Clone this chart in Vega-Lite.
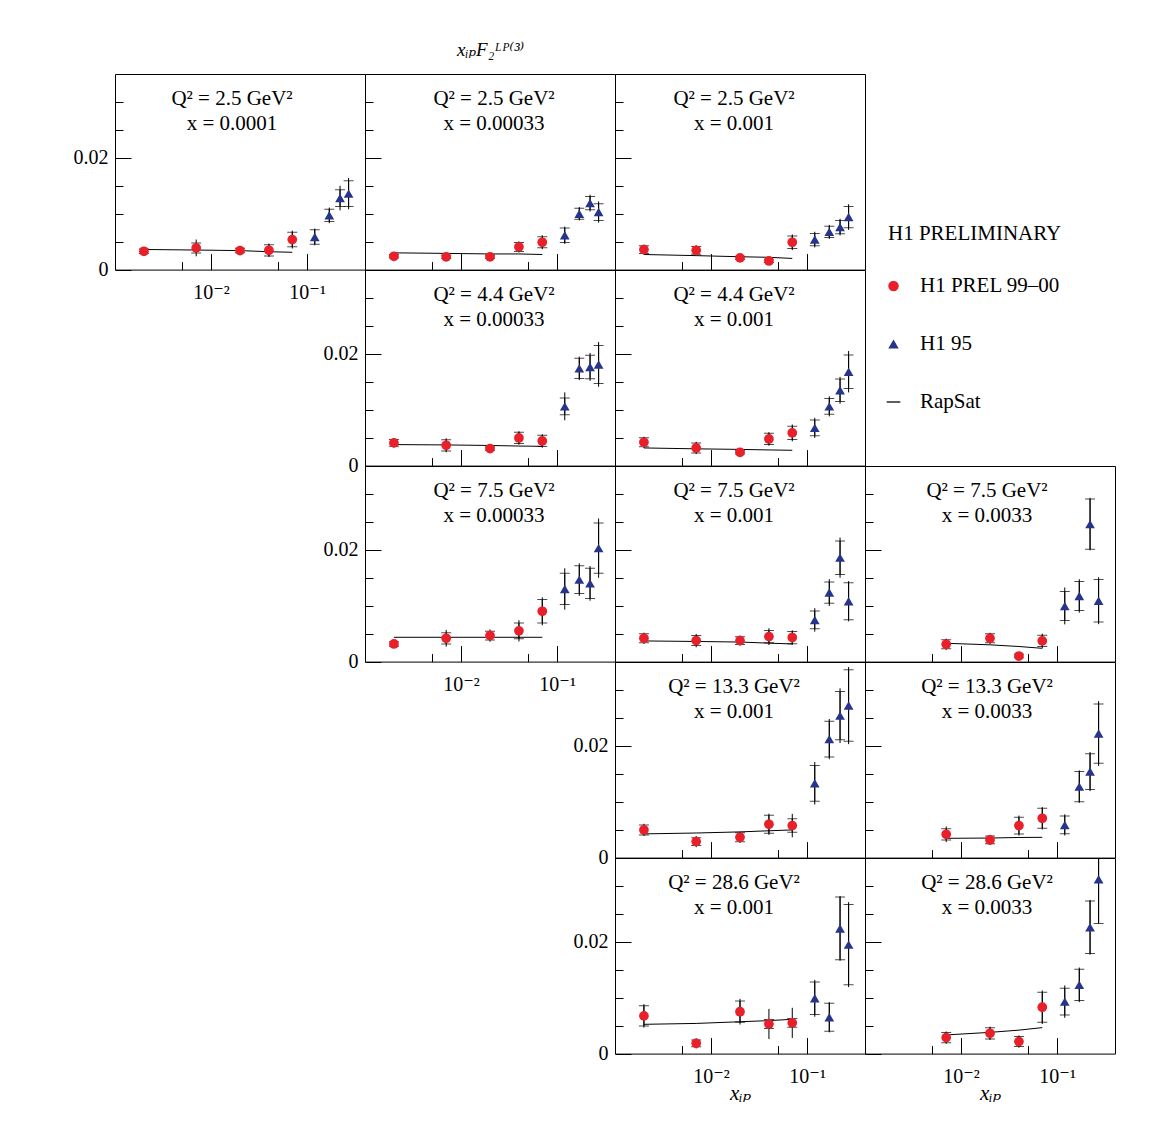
{
  "$schema": "https://vega.github.io/schema/vega-lite/v6.json",
  "autosize": {"type": "pad"},
  "padding": {"left": 72, "top": 40, "right": 5, "bottom": 5},
  "background": "white",
  "title": {"text": "xᵢₚF₂ᴸᴾ⁽³⁾", "anchor": "start", "frame": "group", "dx": 342, "offset": 14, "fontSize": 19, "fontStyle": "italic", "lineHeight": 22, "font": "Liberation Serif, DejaVu Serif"},
  "datasets": {
    "pts": [
      {"p":"A","s":"H1 PREL 99–00","xp":0.002,"y":0.00328,"e":0.0005,"es":0.0004},
      {"p":"A","s":"H1 PREL 99–00","xp":0.007,"y":0.00388,"e":0.0015,"es":0.0009},
      {"p":"A","s":"H1 PREL 99–00","xp":0.02,"y":0.0034,"e":0.0005,"es":0.0004},
      {"p":"A","s":"H1 PREL 99–00","xp":0.04,"y":0.00345,"e":0.0012,"es":0.001},
      {"p":"A","s":"H1 PREL 99–00","xp":0.07,"y":0.00537,"e":0.0016,"es":0.0013},
      {"p":"A","s":"H1 95","xp":0.12,"y":0.00585,"e":0.0015,"es":0.0013},
      {"p":"A","s":"H1 95","xp":0.17,"y":0.0097,"e":0.0014,"es":0.0011},
      {"p":"A","s":"H1 95","xp":0.22,"y":0.0128,"e":0.0022,"es":0.0015},
      {"p":"A","s":"H1 95","xp":0.27,"y":0.0136,"e":0.0028,"es":0.0023},

      {"p":"B","s":"H1 PREL 99–00","xp":0.002,"y":0.00238,"e":0.0004,"es":0.0003},
      {"p":"B","s":"H1 PREL 99–00","xp":0.007,"y":0.00227,"e":0.0004,"es":0.0003},
      {"p":"B","s":"H1 PREL 99–00","xp":0.02,"y":0.00227,"e":0.0004,"es":0.0003},
      {"p":"B","s":"H1 PREL 99–00","xp":0.04,"y":0.00406,"e":0.001,"es":0.0008},
      {"p":"B","s":"H1 PREL 99–00","xp":0.07,"y":0.00489,"e":0.00125,"es":0.001},
      {"p":"B","s":"H1 95","xp":0.12,"y":0.00614,"e":0.00155,"es":0.0013},
      {"p":"B","s":"H1 95","xp":0.17,"y":0.01,"e":0.0012,"es":0.001},
      {"p":"B","s":"H1 95","xp":0.22,"y":0.0119,"e":0.0015,"es":0.0012},
      {"p":"B","s":"H1 95","xp":0.27,"y":0.0103,"e":0.0019,"es":0.0015},

      {"p":"C","s":"H1 PREL 99–00","xp":0.002,"y":0.00358,"e":0.0009,"es":0.0007},
      {"p":"C","s":"H1 PREL 99–00","xp":0.007,"y":0.00345,"e":0.0009,"es":0.0007},
      {"p":"C","s":"H1 PREL 99–00","xp":0.02,"y":0.0021,"e":0.0004,"es":0.0003},
      {"p":"C","s":"H1 PREL 99–00","xp":0.04,"y":0.00155,"e":0.0004,"es":0.0003},
      {"p":"C","s":"H1 PREL 99–00","xp":0.07,"y":0.00489,"e":0.0014,"es":0.0011},
      {"p":"C","s":"H1 95","xp":0.12,"y":0.00537,"e":0.0014,"es":0.0011},
      {"p":"C","s":"H1 95","xp":0.17,"y":0.00675,"e":0.00125,"es":0.001},
      {"p":"C","s":"H1 95","xp":0.22,"y":0.0076,"e":0.0015,"es":0.0012},
      {"p":"C","s":"H1 95","xp":0.27,"y":0.0094,"e":0.0023,"es":0.0019},

      {"p":"D","s":"H1 PREL 99–00","xp":0.002,"y":0.00406,"e":0.0008,"es":0.0006},
      {"p":"D","s":"H1 PREL 99–00","xp":0.007,"y":0.00363,"e":0.00125,"es":0.001},
      {"p":"D","s":"H1 PREL 99–00","xp":0.02,"y":0.00304,"e":0.0004,"es":0.0003},
      {"p":"D","s":"H1 PREL 99–00","xp":0.04,"y":0.00495,"e":0.0012,"es":0.001},
      {"p":"D","s":"H1 PREL 99–00","xp":0.07,"y":0.00441,"e":0.0012,"es":0.001},
      {"p":"D","s":"H1 95","xp":0.12,"y":0.0106,"e":0.0025,"es":0.0015},
      {"p":"D","s":"H1 95","xp":0.17,"y":0.0174,"e":0.0021,"es":0.0018},
      {"p":"D","s":"H1 95","xp":0.22,"y":0.01766,"e":0.0025,"es":0.0021},
      {"p":"D","s":"H1 95","xp":0.27,"y":0.0181,"e":0.004,"es":0.0034},

      {"p":"E","s":"H1 PREL 99–00","xp":0.002,"y":0.00417,"e":0.001,"es":0.0008},
      {"p":"E","s":"H1 PREL 99–00","xp":0.007,"y":0.00316,"e":0.0011,"es":0.0009},
      {"p":"E","s":"H1 PREL 99–00","xp":0.02,"y":0.00238,"e":0.0004,"es":0.0003},
      {"p":"E","s":"H1 PREL 99–00","xp":0.04,"y":0.00477,"e":0.0012,"es":0.001},
      {"p":"E","s":"H1 PREL 99–00","xp":0.07,"y":0.00585,"e":0.0015,"es":0.0012},
      {"p":"E","s":"H1 95","xp":0.12,"y":0.00675,"e":0.0018,"es":0.0014},
      {"p":"E","s":"H1 95","xp":0.17,"y":0.0106,"e":0.0018,"es":0.0014},
      {"p":"E","s":"H1 95","xp":0.22,"y":0.01348,"e":0.0024,"es":0.002},
      {"p":"E","s":"H1 95","xp":0.27,"y":0.0168,"e":0.0037,"es":0.003},

      {"p":"F","s":"H1 PREL 99–00","xp":0.002,"y":0.00316,"e":0.0005,"es":0.0004},
      {"p":"F","s":"H1 PREL 99–00","xp":0.007,"y":0.00417,"e":0.0015,"es":0.001},
      {"p":"F","s":"H1 PREL 99–00","xp":0.02,"y":0.00465,"e":0.0011,"es":0.0008},
      {"p":"F","s":"H1 PREL 99–00","xp":0.04,"y":0.0055,"e":0.0019,"es":0.0014},
      {"p":"F","s":"H1 PREL 99–00","xp":0.07,"y":0.009,"e":0.0025,"es":0.0021},
      {"p":"F","s":"H1 95","xp":0.12,"y":0.013,"e":0.0037,"es":0.0028},
      {"p":"F","s":"H1 95","xp":0.17,"y":0.01467,"e":0.0029,"es":0.0025},
      {"p":"F","s":"H1 95","xp":0.22,"y":0.014,"e":0.0031,"es":0.0027},
      {"p":"F","s":"H1 95","xp":0.27,"y":0.0203,"e":0.0053,"es":0.0045},

      {"p":"G","s":"H1 PREL 99–00","xp":0.002,"y":0.00417,"e":0.001,"es":0.0008},
      {"p":"G","s":"H1 PREL 99–00","xp":0.007,"y":0.00376,"e":0.0012,"es":0.0009},
      {"p":"G","s":"H1 PREL 99–00","xp":0.02,"y":0.00376,"e":0.0009,"es":0.0007},
      {"p":"G","s":"H1 PREL 99–00","xp":0.04,"y":0.00447,"e":0.0015,"es":0.0011},
      {"p":"G","s":"H1 PREL 99–00","xp":0.07,"y":0.0043,"e":0.0013,"es":0.0011},
      {"p":"G","s":"H1 95","xp":0.12,"y":0.00746,"e":0.0021,"es":0.0016},
      {"p":"G","s":"H1 95","xp":0.17,"y":0.01235,"e":0.0024,"es":0.0019},
      {"p":"G","s":"H1 95","xp":0.22,"y":0.0186,"e":0.0036,"es":0.003},
      {"p":"G","s":"H1 95","xp":0.27,"y":0.0108,"e":0.0036,"es":0.0033},

      {"p":"H","s":"H1 PREL 99–00","xp":0.007,"y":0.0031,"e":0.001,"es":0.0008},
      {"p":"H","s":"H1 PREL 99–00","xp":0.02,"y":0.00417,"e":0.001,"es":0.0008},
      {"p":"H","s":"H1 PREL 99–00","xp":0.04,"y":0.001,"e":0.0004,"es":0.0003},
      {"p":"H","s":"H1 PREL 99–00","xp":0.07,"y":0.0037,"e":0.0013,"es":0.001},
      {"p":"H","s":"H1 95","xp":0.12,"y":0.00996,"e":0.0033,"es":0.0026},
      {"p":"H","s":"H1 95","xp":0.17,"y":0.01175,"e":0.003,"es":0.0026},
      {"p":"H","s":"H1 95","xp":0.22,"y":0.0246,"e":0.0047,"es":0.0045},
      {"p":"H","s":"H1 95","xp":0.27,"y":0.0109,"e":0.0042,"es":0.0038},

      {"p":"I","s":"H1 PREL 99–00","xp":0.002,"y":0.00495,"e":0.0011,"es":0.0009},
      {"p":"I","s":"H1 PREL 99–00","xp":0.007,"y":0.00286,"e":0.001,"es":0.0007},
      {"p":"I","s":"H1 PREL 99–00","xp":0.02,"y":0.00363,"e":0.001,"es":0.0008},
      {"p":"I","s":"H1 PREL 99–00","xp":0.04,"y":0.00596,"e":0.0019,"es":0.0016},
      {"p":"I","s":"H1 PREL 99–00","xp":0.07,"y":0.00573,"e":0.0021,"es":0.0012},
      {"p":"I","s":"H1 95","xp":0.12,"y":0.0133,"e":0.0038,"es":0.0032},
      {"p":"I","s":"H1 95","xp":0.17,"y":0.0212,"e":0.0036,"es":0.0032},
      {"p":"I","s":"H1 95","xp":0.22,"y":0.0254,"e":0.0049,"es":0.0043},
      {"p":"I","s":"H1 95","xp":0.27,"y":0.0272,"e":0.0069,"es":0.0064},

      {"p":"J","s":"H1 PREL 99–00","xp":0.007,"y":0.00417,"e":0.0014,"es":0.001},
      {"p":"J","s":"H1 PREL 99–00","xp":0.02,"y":0.00316,"e":0.0009,"es":0.0007},
      {"p":"J","s":"H1 PREL 99–00","xp":0.04,"y":0.00573,"e":0.0018,"es":0.0015},
      {"p":"J","s":"H1 PREL 99–00","xp":0.07,"y":0.00703,"e":0.002,"es":0.0018},
      {"p":"J","s":"H1 95","xp":0.12,"y":0.00585,"e":0.0019,"es":0.0016},
      {"p":"J","s":"H1 95","xp":0.17,"y":0.0127,"e":0.0029,"es":0.0027},
      {"p":"J","s":"H1 95","xp":0.22,"y":0.0154,"e":0.0035,"es":0.0032},
      {"p":"J","s":"H1 95","xp":0.27,"y":0.0222,"e":0.0058,"es":0.0053},

      {"p":"K","s":"H1 PREL 99–00","xp":0.002,"y":0.00675,"e":0.0021,"es":0.0018},
      {"p":"K","s":"H1 PREL 99–00","xp":0.007,"y":0.00184,"e":0.0009,"es":0.0006},
      {"p":"K","s":"H1 PREL 99–00","xp":0.02,"y":0.0075,"e":0.0023,"es":0.0019},
      {"p":"K","s":"H1 PREL 99–00","xp":0.04,"y":0.0053,"e":0.0027,"es":0.0008},
      {"p":"K","s":"H1 PREL 99–00","xp":0.07,"y":0.0055,"e":0.0027,"es":0.0008},
      {"p":"K","s":"H1 95","xp":0.12,"y":0.0099,"e":0.0033,"es":0.0029},
      {"p":"K","s":"H1 95","xp":0.17,"y":0.0065,"e":0.0027,"es":0.0025},
      {"p":"K","s":"H1 95","xp":0.22,"y":0.0224,"e":0.0058,"es":0.0056},
      {"p":"K","s":"H1 95","xp":0.27,"y":0.0195,"e":0.0076,"es":0.0072},

      {"p":"L","s":"H1 PREL 99–00","xp":0.007,"y":0.00286,"e":0.0011,"es":0.0009},
      {"p":"L","s":"H1 PREL 99–00","xp":0.02,"y":0.00363,"e":0.0012,"es":0.001},
      {"p":"L","s":"H1 PREL 99–00","xp":0.04,"y":0.00215,"e":0.0011,"es":0.0009},
      {"p":"L","s":"H1 PREL 99–00","xp":0.07,"y":0.0083,"e":0.003,"es":0.0027},
      {"p":"L","s":"H1 95","xp":0.12,"y":0.0093,"e":0.0029,"es":0.0024},
      {"p":"L","s":"H1 95","xp":0.17,"y":0.0123,"e":0.0031,"es":0.0028},
      {"p":"L","s":"H1 95","xp":0.22,"y":0.0226,"e":0.0049,"es":0.0047},
      {"p":"L","s":"H1 95","xp":0.27,"y":0.0312,"e":0.0079,"es":0.0079}
    ],
    "rap": [
      {"p":"A","xp":0.002,"y":0.0036},{"p":"A","xp":0.007,"y":0.0035},{"p":"A","xp":0.02,"y":0.0034},{"p":"A","xp":0.04,"y":0.0032},{"p":"A","xp":0.07,"y":0.0031},
      {"p":"B","xp":0.002,"y":0.003},{"p":"B","xp":0.007,"y":0.0029},{"p":"B","xp":0.02,"y":0.0028},{"p":"B","xp":0.04,"y":0.0028},{"p":"B","xp":0.07,"y":0.0027},
      {"p":"C","xp":0.002,"y":0.0027},{"p":"C","xp":0.007,"y":0.0025},{"p":"C","xp":0.02,"y":0.0023},{"p":"C","xp":0.04,"y":0.0022},{"p":"C","xp":0.07,"y":0.002},
      {"p":"D","xp":0.002,"y":0.00376},{"p":"D","xp":0.007,"y":0.0037},{"p":"D","xp":0.02,"y":0.0036},{"p":"D","xp":0.04,"y":0.0035},{"p":"D","xp":0.07,"y":0.00345},
      {"p":"E","xp":0.002,"y":0.00316},{"p":"E","xp":0.007,"y":0.003},{"p":"E","xp":0.02,"y":0.0029},{"p":"E","xp":0.04,"y":0.0028},{"p":"E","xp":0.07,"y":0.00274},
      {"p":"F","xp":0.002,"y":0.00435},{"p":"F","xp":0.007,"y":0.00435},{"p":"F","xp":0.02,"y":0.00435},{"p":"F","xp":0.04,"y":0.00435},{"p":"F","xp":0.07,"y":0.00435},
      {"p":"G","xp":0.002,"y":0.0037},{"p":"G","xp":0.007,"y":0.0036},{"p":"G","xp":0.02,"y":0.0035},{"p":"G","xp":0.04,"y":0.0033},{"p":"G","xp":0.07,"y":0.00316},
      {"p":"H","xp":0.007,"y":0.00328},{"p":"H","xp":0.02,"y":0.003},{"p":"H","xp":0.04,"y":0.0027},{"p":"H","xp":0.07,"y":0.00238},
      {"p":"I","xp":0.002,"y":0.00424},{"p":"I","xp":0.007,"y":0.0044},{"p":"I","xp":0.02,"y":0.0046},{"p":"I","xp":0.04,"y":0.0048},{"p":"I","xp":0.07,"y":0.00495},
      {"p":"J","xp":0.007,"y":0.00345},{"p":"J","xp":0.02,"y":0.0035},{"p":"J","xp":0.04,"y":0.0036},{"p":"J","xp":0.07,"y":0.00363},
      {"p":"K","xp":0.002,"y":0.00524},{"p":"K","xp":0.007,"y":0.0054},{"p":"K","xp":0.02,"y":0.0057},{"p":"K","xp":0.04,"y":0.0059},{"p":"K","xp":0.07,"y":0.00614},
      {"p":"L","xp":0.007,"y":0.00334},{"p":"L","xp":0.02,"y":0.0038},{"p":"L","xp":0.04,"y":0.0042},{"p":"L","xp":0.07,"y":0.00465}
    ]
  },
  "columns": 4,
  "spacing": 0,
  "bounds": "flush",
  "concat": [
    {
      "width": 250, "height": 195.6,
      "title": {"text": ["Q² = 2.5 GeV²", "x = 0.0001"], "dx": -8},
      "data": {"name": "pts"}, "transform": [{"filter": "datum.p == 'A'"}],
      "encoding": {
        "x": {"field": "xp", "type": "quantitative", "scale": {"type": "log", "domain": [0.001, 0.4]}, "axis": {"title": null, "values": [0.005, 0.01, 0.05, 0.1], "tickSize": {"condition": {"test": "datum.value == 0.01 || datum.value == 0.1", "value": -16}, "value": -8}, "labelExpr": "datum.value == 0.01 ? '10⁻²' : datum.value == 0.1 ? '10⁻¹' : ''"}},
        "y": {"field": "y", "type": "quantitative", "scale": {"domain": [0, 0.035]}, "axis": {"title": null, "values": [0, 0.005, 0.01, 0.015, 0.02, 0.025, 0.03], "tickSize": {"condition": {"test": "datum.value == 0 || datum.value == 0.02", "value": -16}, "value": -8}, "labelExpr": "datum.value == 0 ? '0' : datum.value == 0.02 ? '0.02' : ''"}}
      },
      "layer": [
        {"mark": {"type": "errorbar", "ticks": false, "rule": {"color": "black", "strokeWidth": 1}, "clip": true}, "encoding": {"yError": {"field": "e"}}},
        {"mark": {"type": "errorbar", "ticks": {"color": "black", "size": 10, "thickness": 1}, "rule": {"color": "black", "strokeWidth": 1}, "clip": true}, "encoding": {"yError": {"field": "es"}}},
        {"data": {"name": "rap"}, "transform": [{"filter": "datum.p == 'A'"}], "mark": {"type": "line", "color": "black", "strokeWidth": 1}},
        {"mark": {"type": "point", "filled": true, "opacity": 1, "size": 95}, "encoding": {
          "color": {"field": "s", "type": "nominal", "title": "H1 PRELIMINARY", "scale": {"domain": ["H1 PREL 99–00", "H1 95", "RapSat"], "range": ["#e8202a", "#27348b", "#000000"]}},
          "shape": {"field": "s", "type": "nominal", "title": "H1 PRELIMINARY", "scale": {"domain": ["H1 PREL 99–00", "H1 95", "RapSat"], "range": ["circle", "triangle-up", "M-1.3,-0.12H1.3V0.12H-1.3Z"]}}}}
      ]
    },
    {
      "width": 250, "height": 195.6,
      "title": {"text": ["Q² = 2.5 GeV²", "x = 0.00033"], "dx": 4},
      "data": {"name": "pts"}, "transform": [{"filter": "datum.p == 'B'"}],
      "encoding": {
        "x": {"field": "xp", "type": "quantitative", "scale": {"type": "log", "domain": [0.001, 0.4]}, "axis": {"title": null, "labels": false, "values": [0.005, 0.01, 0.05, 0.1], "tickSize": {"condition": {"test": "datum.value == 0.01 || datum.value == 0.1", "value": -16}, "value": -8}}},
        "y": {"field": "y", "type": "quantitative", "scale": {"domain": [0, 0.035]}, "axis": {"title": null, "labels": false, "values": [0, 0.005, 0.01, 0.015, 0.02, 0.025, 0.03], "tickSize": {"condition": {"test": "datum.value == 0 || datum.value == 0.02", "value": -16}, "value": -8}}}
      },
      "layer": [
        {"mark": {"type": "errorbar", "ticks": false, "rule": {"color": "black", "strokeWidth": 1}, "clip": true}, "encoding": {"yError": {"field": "e"}}},
        {"mark": {"type": "errorbar", "ticks": {"color": "black", "size": 10, "thickness": 1}, "rule": {"color": "black", "strokeWidth": 1}, "clip": true}, "encoding": {"yError": {"field": "es"}}},
        {"data": {"name": "rap"}, "transform": [{"filter": "datum.p == 'B'"}], "mark": {"type": "line", "color": "black", "strokeWidth": 1}},
        {"mark": {"type": "point", "filled": true, "opacity": 1, "size": 95}, "encoding": {
          "color": {"field": "s", "type": "nominal", "title": "H1 PRELIMINARY", "scale": {"domain": ["H1 PREL 99–00", "H1 95", "RapSat"], "range": ["#e8202a", "#27348b", "#000000"]}},
          "shape": {"field": "s", "type": "nominal", "title": "H1 PRELIMINARY", "scale": {"domain": ["H1 PREL 99–00", "H1 95", "RapSat"], "range": ["circle", "triangle-up", "M-1.3,-0.12H1.3V0.12H-1.3Z"]}}}}
      ]
    },
    {
      "width": 250, "height": 195.6,
      "title": {"text": ["Q² = 2.5 GeV²", "x = 0.001"], "dx": -6},
      "data": {"name": "pts"}, "transform": [{"filter": "datum.p == 'C'"}],
      "encoding": {
        "x": {"field": "xp", "type": "quantitative", "scale": {"type": "log", "domain": [0.001, 0.4]}, "axis": {"title": null, "labels": false, "values": [0.005, 0.01, 0.05, 0.1], "tickSize": {"condition": {"test": "datum.value == 0.01 || datum.value == 0.1", "value": -16}, "value": -8}}},
        "y": {"field": "y", "type": "quantitative", "scale": {"domain": [0, 0.035]}, "axis": {"title": null, "labels": false, "values": [0, 0.005, 0.01, 0.015, 0.02, 0.025, 0.03], "tickSize": {"condition": {"test": "datum.value == 0 || datum.value == 0.02", "value": -16}, "value": -8}}}
      },
      "layer": [
        {"mark": {"type": "errorbar", "ticks": false, "rule": {"color": "black", "strokeWidth": 1}, "clip": true}, "encoding": {"yError": {"field": "e"}}},
        {"mark": {"type": "errorbar", "ticks": {"color": "black", "size": 10, "thickness": 1}, "rule": {"color": "black", "strokeWidth": 1}, "clip": true}, "encoding": {"yError": {"field": "es"}}},
        {"data": {"name": "rap"}, "transform": [{"filter": "datum.p == 'C'"}], "mark": {"type": "line", "color": "black", "strokeWidth": 1}},
        {"mark": {"type": "point", "filled": true, "opacity": 1, "size": 95}, "encoding": {
          "color": {"field": "s", "type": "nominal", "title": "H1 PRELIMINARY", "scale": {"domain": ["H1 PREL 99–00", "H1 95", "RapSat"], "range": ["#e8202a", "#27348b", "#000000"]}},
          "shape": {"field": "s", "type": "nominal", "title": "H1 PRELIMINARY", "scale": {"domain": ["H1 PREL 99–00", "H1 95", "RapSat"], "range": ["circle", "triangle-up", "M-1.3,-0.12H1.3V0.12H-1.3Z"]}}}}
      ]
    },
    {"width": 250, "height": 195.6, "data": {"values": []}, "mark": "point", "view": {"stroke": null}},
    {"width": 250, "height": 195.6, "data": {"values": []}, "mark": "point", "view": {"stroke": null}},
    {
      "width": 250, "height": 195.6,
      "title": {"text": ["Q² = 4.4 GeV²", "x = 0.00033"], "dx": 4},
      "data": {"name": "pts"}, "transform": [{"filter": "datum.p == 'D'"}],
      "encoding": {
        "x": {"field": "xp", "type": "quantitative", "scale": {"type": "log", "domain": [0.001, 0.4]}, "axis": {"title": null, "labels": false, "values": [0.005, 0.01, 0.05, 0.1], "tickSize": {"condition": {"test": "datum.value == 0.01 || datum.value == 0.1", "value": -16}, "value": -8}}},
        "y": {"field": "y", "type": "quantitative", "scale": {"domain": [0, 0.035]}, "axis": {"title": null, "values": [0, 0.005, 0.01, 0.015, 0.02, 0.025, 0.03], "tickSize": {"condition": {"test": "datum.value == 0 || datum.value == 0.02", "value": -16}, "value": -8}, "labelExpr": "datum.value == 0 ? '0' : datum.value == 0.02 ? '0.02' : ''"}}
      },
      "layer": [
        {"mark": {"type": "errorbar", "ticks": false, "rule": {"color": "black", "strokeWidth": 1}, "clip": true}, "encoding": {"yError": {"field": "e"}}},
        {"mark": {"type": "errorbar", "ticks": {"color": "black", "size": 10, "thickness": 1}, "rule": {"color": "black", "strokeWidth": 1}, "clip": true}, "encoding": {"yError": {"field": "es"}}},
        {"data": {"name": "rap"}, "transform": [{"filter": "datum.p == 'D'"}], "mark": {"type": "line", "color": "black", "strokeWidth": 1}},
        {"mark": {"type": "point", "filled": true, "opacity": 1, "size": 95}, "encoding": {
          "color": {"field": "s", "type": "nominal", "title": "H1 PRELIMINARY", "scale": {"domain": ["H1 PREL 99–00", "H1 95", "RapSat"], "range": ["#e8202a", "#27348b", "#000000"]}},
          "shape": {"field": "s", "type": "nominal", "title": "H1 PRELIMINARY", "scale": {"domain": ["H1 PREL 99–00", "H1 95", "RapSat"], "range": ["circle", "triangle-up", "M-1.3,-0.12H1.3V0.12H-1.3Z"]}}}}
      ]
    },
    {
      "width": 250, "height": 195.6,
      "title": {"text": ["Q² = 4.4 GeV²", "x = 0.001"], "dx": -6},
      "data": {"name": "pts"}, "transform": [{"filter": "datum.p == 'E'"}],
      "encoding": {
        "x": {"field": "xp", "type": "quantitative", "scale": {"type": "log", "domain": [0.001, 0.4]}, "axis": {"title": null, "labels": false, "values": [0.005, 0.01, 0.05, 0.1], "tickSize": {"condition": {"test": "datum.value == 0.01 || datum.value == 0.1", "value": -16}, "value": -8}}},
        "y": {"field": "y", "type": "quantitative", "scale": {"domain": [0, 0.035]}, "axis": {"title": null, "labels": false, "values": [0, 0.005, 0.01, 0.015, 0.02, 0.025, 0.03], "tickSize": {"condition": {"test": "datum.value == 0 || datum.value == 0.02", "value": -16}, "value": -8}}}
      },
      "layer": [
        {"mark": {"type": "errorbar", "ticks": false, "rule": {"color": "black", "strokeWidth": 1}, "clip": true}, "encoding": {"yError": {"field": "e"}}},
        {"mark": {"type": "errorbar", "ticks": {"color": "black", "size": 10, "thickness": 1}, "rule": {"color": "black", "strokeWidth": 1}, "clip": true}, "encoding": {"yError": {"field": "es"}}},
        {"data": {"name": "rap"}, "transform": [{"filter": "datum.p == 'E'"}], "mark": {"type": "line", "color": "black", "strokeWidth": 1}},
        {"mark": {"type": "point", "filled": true, "opacity": 1, "size": 95}, "encoding": {
          "color": {"field": "s", "type": "nominal", "title": "H1 PRELIMINARY", "scale": {"domain": ["H1 PREL 99–00", "H1 95", "RapSat"], "range": ["#e8202a", "#27348b", "#000000"]}},
          "shape": {"field": "s", "type": "nominal", "title": "H1 PRELIMINARY", "scale": {"domain": ["H1 PREL 99–00", "H1 95", "RapSat"], "range": ["circle", "triangle-up", "M-1.3,-0.12H1.3V0.12H-1.3Z"]}}}}
      ]
    },
    {"width": 250, "height": 195.6, "data": {"values": []}, "mark": "point", "view": {"stroke": null}},
    {"width": 250, "height": 195.6, "data": {"values": []}, "mark": "point", "view": {"stroke": null}},
    {
      "width": 250, "height": 195.6,
      "title": {"text": ["Q² = 7.5 GeV²", "x = 0.00033"], "dx": 4},
      "data": {"name": "pts"}, "transform": [{"filter": "datum.p == 'F'"}],
      "encoding": {
        "x": {"field": "xp", "type": "quantitative", "scale": {"type": "log", "domain": [0.001, 0.4]}, "axis": {"title": null, "values": [0.005, 0.01, 0.05, 0.1], "tickSize": {"condition": {"test": "datum.value == 0.01 || datum.value == 0.1", "value": -16}, "value": -8}, "labelExpr": "datum.value == 0.01 ? '10⁻²' : datum.value == 0.1 ? '10⁻¹' : ''"}},
        "y": {"field": "y", "type": "quantitative", "scale": {"domain": [0, 0.035]}, "axis": {"title": null, "values": [0, 0.005, 0.01, 0.015, 0.02, 0.025, 0.03], "tickSize": {"condition": {"test": "datum.value == 0 || datum.value == 0.02", "value": -16}, "value": -8}, "labelExpr": "datum.value == 0 ? '0' : datum.value == 0.02 ? '0.02' : ''"}}
      },
      "layer": [
        {"mark": {"type": "errorbar", "ticks": false, "rule": {"color": "black", "strokeWidth": 1}, "clip": true}, "encoding": {"yError": {"field": "e"}}},
        {"mark": {"type": "errorbar", "ticks": {"color": "black", "size": 10, "thickness": 1}, "rule": {"color": "black", "strokeWidth": 1}, "clip": true}, "encoding": {"yError": {"field": "es"}}},
        {"data": {"name": "rap"}, "transform": [{"filter": "datum.p == 'F'"}], "mark": {"type": "line", "color": "black", "strokeWidth": 1}},
        {"mark": {"type": "point", "filled": true, "opacity": 1, "size": 95}, "encoding": {
          "color": {"field": "s", "type": "nominal", "title": "H1 PRELIMINARY", "scale": {"domain": ["H1 PREL 99–00", "H1 95", "RapSat"], "range": ["#e8202a", "#27348b", "#000000"]}},
          "shape": {"field": "s", "type": "nominal", "title": "H1 PRELIMINARY", "scale": {"domain": ["H1 PREL 99–00", "H1 95", "RapSat"], "range": ["circle", "triangle-up", "M-1.3,-0.12H1.3V0.12H-1.3Z"]}}}}
      ]
    },
    {
      "width": 250, "height": 195.6,
      "title": {"text": ["Q² = 7.5 GeV²", "x = 0.001"], "dx": -6},
      "data": {"name": "pts"}, "transform": [{"filter": "datum.p == 'G'"}],
      "encoding": {
        "x": {"field": "xp", "type": "quantitative", "scale": {"type": "log", "domain": [0.001, 0.4]}, "axis": {"title": null, "labels": false, "values": [0.005, 0.01, 0.05, 0.1], "tickSize": {"condition": {"test": "datum.value == 0.01 || datum.value == 0.1", "value": -16}, "value": -8}}},
        "y": {"field": "y", "type": "quantitative", "scale": {"domain": [0, 0.035]}, "axis": {"title": null, "labels": false, "values": [0, 0.005, 0.01, 0.015, 0.02, 0.025, 0.03], "tickSize": {"condition": {"test": "datum.value == 0 || datum.value == 0.02", "value": -16}, "value": -8}}}
      },
      "layer": [
        {"mark": {"type": "errorbar", "ticks": false, "rule": {"color": "black", "strokeWidth": 1}, "clip": true}, "encoding": {"yError": {"field": "e"}}},
        {"mark": {"type": "errorbar", "ticks": {"color": "black", "size": 10, "thickness": 1}, "rule": {"color": "black", "strokeWidth": 1}, "clip": true}, "encoding": {"yError": {"field": "es"}}},
        {"data": {"name": "rap"}, "transform": [{"filter": "datum.p == 'G'"}], "mark": {"type": "line", "color": "black", "strokeWidth": 1}},
        {"mark": {"type": "point", "filled": true, "opacity": 1, "size": 95}, "encoding": {
          "color": {"field": "s", "type": "nominal", "title": "H1 PRELIMINARY", "scale": {"domain": ["H1 PREL 99–00", "H1 95", "RapSat"], "range": ["#e8202a", "#27348b", "#000000"]}},
          "shape": {"field": "s", "type": "nominal", "title": "H1 PRELIMINARY", "scale": {"domain": ["H1 PREL 99–00", "H1 95", "RapSat"], "range": ["circle", "triangle-up", "M-1.3,-0.12H1.3V0.12H-1.3Z"]}}}}
      ]
    },
    {
      "width": 250, "height": 195.6,
      "title": {"text": ["Q² = 7.5 GeV²", "x = 0.0033"], "dx": -3},
      "data": {"name": "pts"}, "transform": [{"filter": "datum.p == 'H'"}],
      "encoding": {
        "x": {"field": "xp", "type": "quantitative", "scale": {"type": "log", "domain": [0.001, 0.4]}, "axis": {"title": null, "labels": false, "values": [0.005, 0.01, 0.05, 0.1], "tickSize": {"condition": {"test": "datum.value == 0.01 || datum.value == 0.1", "value": -16}, "value": -8}}},
        "y": {"field": "y", "type": "quantitative", "scale": {"domain": [0, 0.035]}, "axis": {"title": null, "labels": false, "values": [0, 0.005, 0.01, 0.015, 0.02, 0.025, 0.03], "tickSize": {"condition": {"test": "datum.value == 0 || datum.value == 0.02", "value": -16}, "value": -8}}}
      },
      "layer": [
        {"mark": {"type": "errorbar", "ticks": false, "rule": {"color": "black", "strokeWidth": 1}, "clip": true}, "encoding": {"yError": {"field": "e"}}},
        {"mark": {"type": "errorbar", "ticks": {"color": "black", "size": 10, "thickness": 1}, "rule": {"color": "black", "strokeWidth": 1}, "clip": true}, "encoding": {"yError": {"field": "es"}}},
        {"data": {"name": "rap"}, "transform": [{"filter": "datum.p == 'H'"}], "mark": {"type": "line", "color": "black", "strokeWidth": 1}},
        {"mark": {"type": "point", "filled": true, "opacity": 1, "size": 95}, "encoding": {
          "color": {"field": "s", "type": "nominal", "title": "H1 PRELIMINARY", "scale": {"domain": ["H1 PREL 99–00", "H1 95", "RapSat"], "range": ["#e8202a", "#27348b", "#000000"]}},
          "shape": {"field": "s", "type": "nominal", "title": "H1 PRELIMINARY", "scale": {"domain": ["H1 PREL 99–00", "H1 95", "RapSat"], "range": ["circle", "triangle-up", "M-1.3,-0.12H1.3V0.12H-1.3Z"]}}}}
      ]
    },
    {"width": 250, "height": 195.6, "data": {"values": []}, "mark": "point", "view": {"stroke": null}},
    {"width": 250, "height": 195.6, "data": {"values": []}, "mark": "point", "view": {"stroke": null}},
    {
      "width": 250, "height": 195.6,
      "title": {"text": ["Q² = 13.3 GeV²", "x = 0.001"], "dx": -6},
      "data": {"name": "pts"}, "transform": [{"filter": "datum.p == 'I'"}],
      "encoding": {
        "x": {"field": "xp", "type": "quantitative", "scale": {"type": "log", "domain": [0.001, 0.4]}, "axis": {"title": null, "labels": false, "values": [0.005, 0.01, 0.05, 0.1], "tickSize": {"condition": {"test": "datum.value == 0.01 || datum.value == 0.1", "value": -16}, "value": -8}}},
        "y": {"field": "y", "type": "quantitative", "scale": {"domain": [0, 0.035]}, "axis": {"title": null, "values": [0, 0.005, 0.01, 0.015, 0.02, 0.025, 0.03], "tickSize": {"condition": {"test": "datum.value == 0 || datum.value == 0.02", "value": -16}, "value": -8}, "labelExpr": "datum.value == 0 ? '0' : datum.value == 0.02 ? '0.02' : ''"}}
      },
      "layer": [
        {"mark": {"type": "errorbar", "ticks": false, "rule": {"color": "black", "strokeWidth": 1}, "clip": true}, "encoding": {"yError": {"field": "e"}}},
        {"mark": {"type": "errorbar", "ticks": {"color": "black", "size": 10, "thickness": 1}, "rule": {"color": "black", "strokeWidth": 1}, "clip": true}, "encoding": {"yError": {"field": "es"}}},
        {"data": {"name": "rap"}, "transform": [{"filter": "datum.p == 'I'"}], "mark": {"type": "line", "color": "black", "strokeWidth": 1}},
        {"mark": {"type": "point", "filled": true, "opacity": 1, "size": 95}, "encoding": {
          "color": {"field": "s", "type": "nominal", "title": "H1 PRELIMINARY", "scale": {"domain": ["H1 PREL 99–00", "H1 95", "RapSat"], "range": ["#e8202a", "#27348b", "#000000"]}},
          "shape": {"field": "s", "type": "nominal", "title": "H1 PRELIMINARY", "scale": {"domain": ["H1 PREL 99–00", "H1 95", "RapSat"], "range": ["circle", "triangle-up", "M-1.3,-0.12H1.3V0.12H-1.3Z"]}}}}
      ]
    },
    {
      "width": 250, "height": 195.6,
      "title": {"text": ["Q² = 13.3 GeV²", "x = 0.0033"], "dx": -3},
      "data": {"name": "pts"}, "transform": [{"filter": "datum.p == 'J'"}],
      "encoding": {
        "x": {"field": "xp", "type": "quantitative", "scale": {"type": "log", "domain": [0.001, 0.4]}, "axis": {"title": null, "labels": false, "values": [0.005, 0.01, 0.05, 0.1], "tickSize": {"condition": {"test": "datum.value == 0.01 || datum.value == 0.1", "value": -16}, "value": -8}}},
        "y": {"field": "y", "type": "quantitative", "scale": {"domain": [0, 0.035]}, "axis": {"title": null, "labels": false, "values": [0, 0.005, 0.01, 0.015, 0.02, 0.025, 0.03], "tickSize": {"condition": {"test": "datum.value == 0 || datum.value == 0.02", "value": -16}, "value": -8}}}
      },
      "layer": [
        {"mark": {"type": "errorbar", "ticks": false, "rule": {"color": "black", "strokeWidth": 1}, "clip": true}, "encoding": {"yError": {"field": "e"}}},
        {"mark": {"type": "errorbar", "ticks": {"color": "black", "size": 10, "thickness": 1}, "rule": {"color": "black", "strokeWidth": 1}, "clip": true}, "encoding": {"yError": {"field": "es"}}},
        {"data": {"name": "rap"}, "transform": [{"filter": "datum.p == 'J'"}], "mark": {"type": "line", "color": "black", "strokeWidth": 1}},
        {"mark": {"type": "point", "filled": true, "opacity": 1, "size": 95}, "encoding": {
          "color": {"field": "s", "type": "nominal", "title": "H1 PRELIMINARY", "scale": {"domain": ["H1 PREL 99–00", "H1 95", "RapSat"], "range": ["#e8202a", "#27348b", "#000000"]}},
          "shape": {"field": "s", "type": "nominal", "title": "H1 PRELIMINARY", "scale": {"domain": ["H1 PREL 99–00", "H1 95", "RapSat"], "range": ["circle", "triangle-up", "M-1.3,-0.12H1.3V0.12H-1.3Z"]}}}}
      ]
    },
    {"width": 250, "height": 195.6, "data": {"values": []}, "mark": "point", "view": {"stroke": null}},
    {"width": 250, "height": 195.6, "data": {"values": []}, "mark": "point", "view": {"stroke": null}},
    {
      "width": 250, "height": 195.6,
      "title": {"text": ["Q² = 28.6 GeV²", "x = 0.001"], "dx": -6},
      "data": {"name": "pts"}, "transform": [{"filter": "datum.p == 'K'"}],
      "encoding": {
        "x": {"field": "xp", "type": "quantitative", "scale": {"type": "log", "domain": [0.001, 0.4]}, "axis": {"title": "xᵢₚ", "values": [0.005, 0.01, 0.05, 0.1], "tickSize": {"condition": {"test": "datum.value == 0.01 || datum.value == 0.1", "value": -16}, "value": -8}, "labelExpr": "datum.value == 0.01 ? '10⁻²' : datum.value == 0.1 ? '10⁻¹' : ''"}},
        "y": {"field": "y", "type": "quantitative", "scale": {"domain": [0, 0.035]}, "axis": {"title": null, "values": [0, 0.005, 0.01, 0.015, 0.02, 0.025, 0.03], "tickSize": {"condition": {"test": "datum.value == 0 || datum.value == 0.02", "value": -16}, "value": -8}, "labelExpr": "datum.value == 0 ? '0' : datum.value == 0.02 ? '0.02' : ''"}}
      },
      "layer": [
        {"mark": {"type": "errorbar", "ticks": false, "rule": {"color": "black", "strokeWidth": 1}, "clip": true}, "encoding": {"yError": {"field": "e"}}},
        {"mark": {"type": "errorbar", "ticks": {"color": "black", "size": 10, "thickness": 1}, "rule": {"color": "black", "strokeWidth": 1}, "clip": true}, "encoding": {"yError": {"field": "es"}}},
        {"data": {"name": "rap"}, "transform": [{"filter": "datum.p == 'K'"}], "mark": {"type": "line", "color": "black", "strokeWidth": 1}},
        {"mark": {"type": "point", "filled": true, "opacity": 1, "size": 95}, "encoding": {
          "color": {"field": "s", "type": "nominal", "title": "H1 PRELIMINARY", "scale": {"domain": ["H1 PREL 99–00", "H1 95", "RapSat"], "range": ["#e8202a", "#27348b", "#000000"]}},
          "shape": {"field": "s", "type": "nominal", "title": "H1 PRELIMINARY", "scale": {"domain": ["H1 PREL 99–00", "H1 95", "RapSat"], "range": ["circle", "triangle-up", "M-1.3,-0.12H1.3V0.12H-1.3Z"]}}}}
      ]
    },
    {
      "width": 250, "height": 195.6,
      "title": {"text": ["Q² = 28.6 GeV²", "x = 0.0033"], "dx": -3},
      "data": {"name": "pts"}, "transform": [{"filter": "datum.p == 'L'"}],
      "encoding": {
        "x": {"field": "xp", "type": "quantitative", "scale": {"type": "log", "domain": [0.001, 0.4]}, "axis": {"title": "xᵢₚ", "values": [0.005, 0.01, 0.05, 0.1], "tickSize": {"condition": {"test": "datum.value == 0.01 || datum.value == 0.1", "value": -16}, "value": -8}, "labelExpr": "datum.value == 0.01 ? '10⁻²' : datum.value == 0.1 ? '10⁻¹' : ''"}},
        "y": {"field": "y", "type": "quantitative", "scale": {"domain": [0, 0.035]}, "axis": {"title": null, "labels": false, "values": [0, 0.005, 0.01, 0.015, 0.02, 0.025, 0.03], "tickSize": {"condition": {"test": "datum.value == 0 || datum.value == 0.02", "value": -16}, "value": -8}}}
      },
      "layer": [
        {"mark": {"type": "errorbar", "ticks": false, "rule": {"color": "black", "strokeWidth": 1}, "clip": true}, "encoding": {"yError": {"field": "e"}}},
        {"mark": {"type": "errorbar", "ticks": {"color": "black", "size": 10, "thickness": 1}, "rule": {"color": "black", "strokeWidth": 1}, "clip": true}, "encoding": {"yError": {"field": "es"}}},
        {"data": {"name": "rap"}, "transform": [{"filter": "datum.p == 'L'"}], "mark": {"type": "line", "color": "black", "strokeWidth": 1}},
        {"mark": {"type": "point", "filled": true, "opacity": 1, "size": 95}, "encoding": {
          "color": {"field": "s", "type": "nominal", "title": "H1 PRELIMINARY", "scale": {"domain": ["H1 PREL 99–00", "H1 95", "RapSat"], "range": ["#e8202a", "#27348b", "#000000"]}},
          "shape": {"field": "s", "type": "nominal", "title": "H1 PRELIMINARY", "scale": {"domain": ["H1 PREL 99–00", "H1 95", "RapSat"], "range": ["circle", "triangle-up", "M-1.3,-0.12H1.3V0.12H-1.3Z"]}}}}
      ]
    }
  ],
  "config": {
    "view": {"stroke": "black", "strokeWidth": 1},
    "font": "Liberation Serif, DejaVu Serif",
    "title": {"font": "Liberation Serif, DejaVu Serif", "fontSize": 21, "fontWeight": "normal", "color": "black", "offset": -60, "frame": "group", "anchor": "middle", "lineHeight": 25},
    "axis": {"domain": false, "grid": false, "tickColor": "black", "tickWidth": 1, "labelColor": "black", "labelFont": "Liberation Serif, DejaVu Serif", "labelFontSize": 20, "labelOverlap": false, "labelFlush": false, "labelBound": false, "titleFont": "Liberation Serif, DejaVu Serif", "titleFontSize": 21, "titleFontWeight": "normal", "titleFontStyle": "italic", "titleColor": "black", "titlePadding": -12},
    "axisX": {"labelPadding": 29},
    "axisY": {"labelPadding": 23},
    "legend": {"orient": "none", "legendX": 773, "legendY": 149, "titleFont": "Liberation Serif", "titleFontSize": 21, "titleFontWeight": "normal", "titleColor": "black", "labelFont": "Liberation Serif", "labelFontSize": 21, "labelColor": "black", "symbolSize": 110, "rowPadding": 36, "titlePadding": 31.5, "labelOffset": 16, "symbolOffset": -5, "padding": 0, "symbolStrokeWidth": 0}
  }
}
